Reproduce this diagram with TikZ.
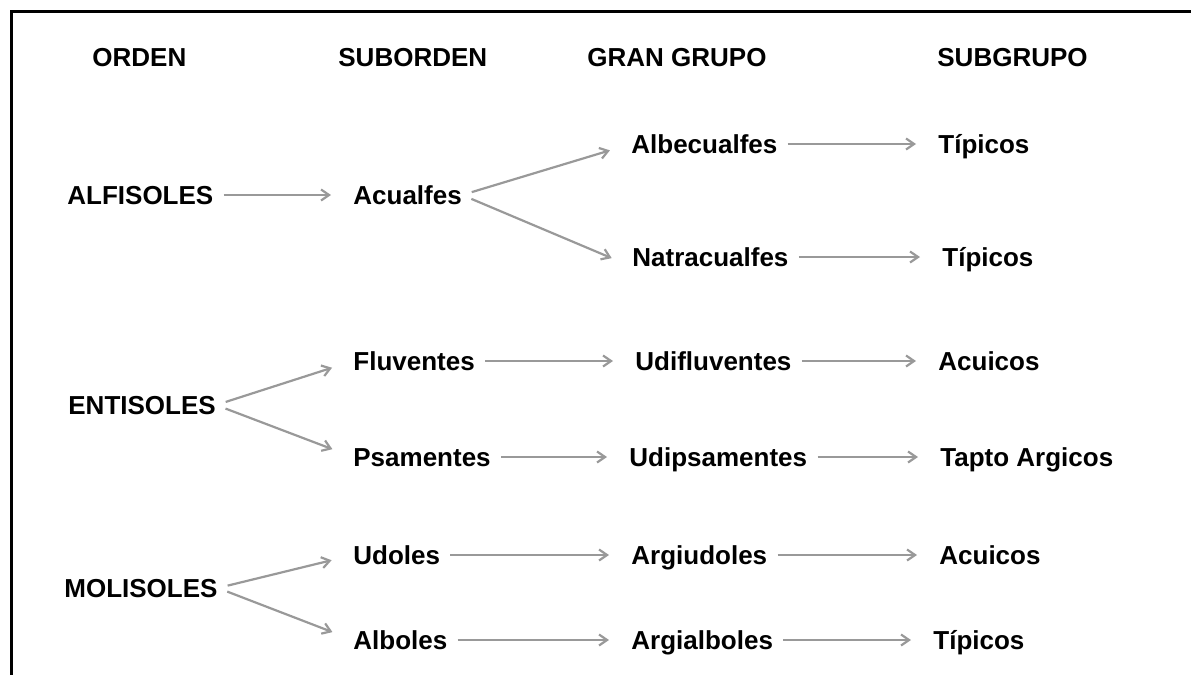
\documentclass[tikz,border=0pt]{standalone}
\usepackage{fontspec}
\setmainfont{Liberation Sans}
\usetikzlibrary{arrows.meta}

\begin{document}
\begin{tikzpicture}[x=0.5pt, y=-0.5pt,
  every node/.style={font=\fontsize{13}{15}\selectfont\bfseries, anchor=west, inner sep=0pt, text height=9.3pt, text depth=0pt},
  flecha/.style={draw=black!40, line width=1.1pt, -{Straight Barb[length=4pt,width=5.5pt]}, shorten <=5pt, shorten >=11pt}]

\useasboundingbox (0,0) rectangle (1191,675);

% frame, top and left only
\draw[line width=1.5pt] (11.5,675) -- (11.5,11.5) -- (1191,11.5);

% column headers
\node (hord) at (92,57) {ORDEN};
\node (hsub) at (338,57) {SUBORDEN};
\node (hgran) at (587,57) {GRAN GRUPO};
\node (hsgr) at (937,57) {SUBGRUPO};

% ALFISOLES branch
\node (alf) at (67,195) {ALFISOLES};
\node (acu) at (353,195) {Acualfes};
\node (albe) at (631,144) {Albecualfes};
\node (tip1) at (938,144) {Típicos};
\node (natr) at (632,257) {Natracualfes};
\node (tip2) at (942,257) {Típicos};

\draw[flecha] (alf) -- (acu);
\draw[flecha] (acu.east) -- (albe.west);
\draw[flecha] (acu.east) -- (natr.south west);
\draw[flecha] (albe) -- (tip1);
\draw[flecha] (natr) -- (tip2);

% ENTISOLES branch
\node (ent) at (68,405) {ENTISOLES};
\node (flu) at (353,361) {Fluventes};
\node (udif) at (635,361) {Udifluventes};
\node (acui1) at (938,361) {Acuicos};
\node (psa) at (353,457) {Psamentes};
\node (udip) at (629,457) {Udipsamentes};
\node (tapt) at (940,457) {Tapto Argicos};

\draw[flecha] (ent.east) -- (flu.west);
\draw[flecha] (ent.east) -- (psa.west);
\draw[flecha] (flu) -- (udif);
\draw[flecha] (udif) -- (acui1);
\draw[flecha] (psa) -- (udip);
\draw[flecha] (udip) -- (tapt);

% MOLISOLES branch
\node (mol) at (64,588) {MOLISOLES};
\node (udo) at (353,555) {Udoles};
\node (argiu) at (631,555) {Argiudoles};
\node (acui2) at (939,555) {Acuicos};
\node (albo) at (353,640) {Alboles};
\node (argia) at (631,640) {Argialboles};
\node (tip3) at (933,640) {Típicos};

\draw[flecha] (mol.east) -- (udo.west);
\draw[flecha] (mol.east) -- (albo.west);
\draw[flecha] (udo) -- (argiu);
\draw[flecha] (argiu) -- (acui2);
\draw[flecha] (albo) -- (argia);
\draw[flecha] (argia) -- (tip3);

\end{tikzpicture}
\end{document}
